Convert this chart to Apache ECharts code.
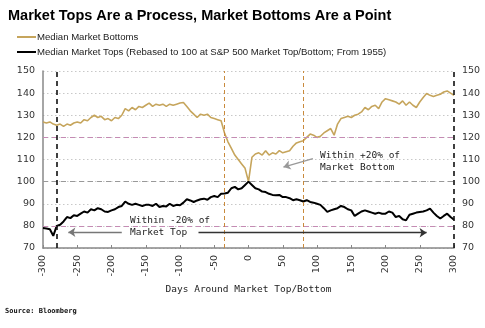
<!DOCTYPE html>
<html><head><meta charset="utf-8">
<script src="https://cdn.jsdelivr.net/npm/echarts@6/dist/echarts.min.js"></script>
<style>html,body{margin:0;padding:0;background:#fff}#c{width:485px;height:328px}</style>
</head><body><div id="c"></div>
<script>
const title = "Market Tops Are a Process, Market Bottoms Are a Point";
const seriesNames = ["Median Market Bottoms", "Median Market Tops (Rebased to 100 at S&P 500 Market Top/Bottom; From 1955)"];
const xTicks = [-300,-250,-200,-150,-100,-50,0,50,100,150,200,250,300];
const yTicks = [70,80,90,100,110,120,130,140,150];
const dayStart = -300, dayStep = 5;
const bottoms = [127,126.5,127,126,125.5,126,125,126,125.5,126.5,127,126.5,128,127.5,129,130,129,129.5,128,128.5,127.5,129,128.5,130,133,132,133.5,132.5,134,133.5,134.5,135.5,134,135,134.5,135,134,135,134.5,135,135.5,135.8,134,132,130.5,129,130.5,130,130.5,129,128.5,128,127.5,122,118,115,112,110,108,106,100,111,112.5,113,112,114,112,113,112.5,114,113,113.5,114,116,117.5,118,118.5,120,121.5,121,120,120.5,122,123,124,121,126,128.5,129,129.5,129,130,130.5,131.5,133.5,132.5,134,134.5,133,136,137.5,137,136.5,136,135,136.5,134.5,136,134.5,133.5,136,138,139.8,139,138.5,139,139.5,140.5,141,140,139];
const tops = [79,78.8,78.5,75.5,80,80.5,82,84,83.5,84.8,84.5,85.5,86.5,86,87.5,87,88,87.5,86.5,86.3,87,87.5,88.5,89,91,90,89.5,90,89.5,89,89.5,89.5,89,90,88.5,89,88.8,90,89,89.5,89.3,90.5,92,91.5,90.8,91.5,92,92.3,91.8,93,93.5,93,94.5,94.6,95,97,97.6,96.5,97,98.5,100,98.5,97,96.5,95.5,95.3,94.5,94,93.8,94,93,93,92.5,91.6,92,91.6,91,91.6,90.8,90.5,90,89.5,88,86.3,87,87.5,88,89,88.5,87.5,87,84.5,85.5,86.5,87,86.5,86,85.5,86,85.5,85.5,86.5,86,84,84.5,83,82.5,85,85.5,86,86.3,86.5,87,87.8,86,84.5,83.3,84.5,85.5,84,82.8];
const vLinesBlack = [-280, 300];
const vLinesBrown = [-35, 80];
const hLinesPink = [120, 80];
const hLineGray = 100;
const axisName = "Days Around Market Top/Bottom";
const source = "Source: Bloomberg";
const annoBottom = ["Within +20% of", "Market Bottom"];
const annoTop = ["Within -20% of", "Market Top"];

const pair = arr => arr.map((v, i) => [dayStart + i * dayStep, v]);
const chart = echarts.init(document.getElementById('c'), null, {renderer: 'canvas'});
const mono = "'DejaVu Sans Mono', monospace";
const sans = "'DejaVu Sans', sans-serif";
const GOLD = '#c6a55c';

const vMark = (x, color, w, dash) => ({xAxis: x, lineStyle: {color, width: w, type: dash}});
const hMark = (y, color, w, dash) => ({yAxis: y, lineStyle: {color, width: w, type: dash}});

chart.setOption({
  animation: false,
  title: {text: title, left: 3, top: 3, textStyle: {fontFamily: "'Liberation Sans', Arial, sans-serif", fontWeight: 'bold', fontSize: 14.5, color: '#000'}},
  legend: {
    orient: 'vertical', left: 12, top: 27, itemGap: 5, itemWidth: 19, itemHeight: 2, icon: 'rect',
    textStyle: {fontFamily: "'Liberation Sans', Arial, sans-serif", fontSize: 9.6, color: '#222', padding: [0,0,0,-4]},
    data: seriesNames
  },
  grid: {left: 43, right: 31, top: 71, bottom: 80},
  xAxis: {
    type: 'value', min: -300, max: 300, interval: 50,
    name: axisName, nameLocation: 'middle', nameGap: 33,
    nameTextStyle: {fontFamily: mono, fontSize: 9.5, color: '#222'},
    axisLine: {show: true, onZero: false, lineStyle: {color: '#888', width: 1.5}},
    axisTick: {show: true, inside: true, length: 3, lineStyle: {color: '#888'}},
    axisLabel: {rotate: 90, fontFamily: sans, fontSize: 9.5, color: '#333', margin: 7, formatter: v => xTicks.includes(v) ? String(v) : ''},
    splitLine: {show: false}
  },
  yAxis: [{
    type: 'value', min: 70, max: 150, interval: 10,
    axisLine: {show: true, onZero: false, lineStyle: {color: '#888', width: 1.5}},
    axisTick: {show: false},
    axisLabel: {fontFamily: sans, fontSize: 9.5, color: '#333', margin: 8, formatter: v => yTicks.includes(v) ? String(v) : ''},
    splitLine: {show: true, lineStyle: {color: '#c8c8c8', type: [1.5, 2.5], width: 1}}
  }, {
    type: 'value', min: 70, max: 150, interval: 10, position: 'right',
    axisLine: {show: false, onZero: false}, axisTick: {show: false},
    axisLabel: {fontFamily: sans, fontSize: 9.5, color: '#333', margin: 8},
    splitLine: {show: false}
  }],
  series: [{
    name: seriesNames[0], type: 'line', data: pair(bottoms), showSymbol: false, symbol: 'none',
    lineStyle: {color: GOLD, width: 1.6}, itemStyle: {color: GOLD}, z: 3,
    markLine: {
      silent: true, symbol: 'none', label: {show: false}, animation: false,
      data: [
        hMark(hLinesPink[0], '#c58bb4', 1.2, [5, 4]),
        hMark(hLinesPink[1], '#c58bb4', 1.2, [5, 4]),
        hMark(hLineGray, '#999', 1.2, [5, 4]),
        vMark(vLinesBrown[0], '#c98a3c', 1, [4, 3]),
        vMark(vLinesBrown[1], '#c98a3c', 1, [4, 3]),
        vMark(vLinesBlack[0], '#111', 1.6, [5, 4]),
        vMark(vLinesBlack[1], '#111', 1.6, [5, 4])
      ]
    }
  }, {
    name: seriesNames[1], type: 'line', data: pair(tops), showSymbol: false, symbol: 'none',
    lineStyle: {color: '#000', width: 2}, itemStyle: {color: '#000'}, z: 4,
    markLine: {
      silent: true, label: {show: false}, animation: false, symbolSize: 7,
      data: [
        [{coord: [-185, 77.1], symbol: 'none'}, {coord: [-263, 77.1], symbol: 'arrow'}],
        [{coord: [-73, 76.9], symbol: 'none'}, {coord: [260, 76.9], symbol: 'arrow'}],
        [{coord: [94, 110.4], symbol: 'none'}, {coord: [51, 106.6], symbol: 'arrow'}]
      ].map((p, i) => { p[0].lineStyle = {color: i === 0 ? '#777' : (i === 1 ? '#333' : '#999'), width: 1.3, type: 'solid'}; return p; })
    }
  }],
  graphic: [
    {type: 'text', left: 320, top: 150, style: {text: annoBottom.join('\n'), font: "9.5px 'DejaVu Sans Mono'", fill: '#222', lineHeight: 12}},
    {type: 'text', left: 130, top: 215, style: {text: annoTop.join('\n'), font: "9.5px 'DejaVu Sans Mono'", fill: '#222', lineHeight: 12}},
    {type: 'text', left: 5, top: 308, style: {text: source, font: "bold 7px 'DejaVu Sans Mono'", fill: '#111'}}
  ]
});
</script></body></html>
